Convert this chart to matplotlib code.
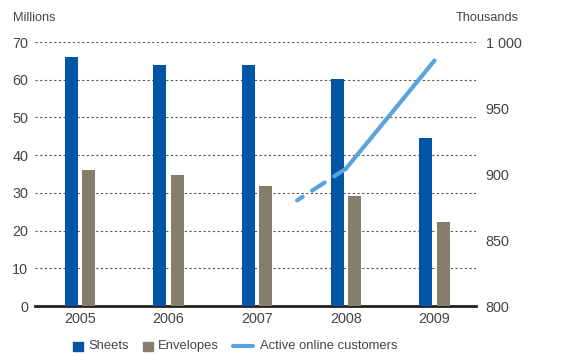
import matplotlib.pyplot as plt
from matplotlib.patches import Rectangle
from matplotlib.lines import Line2D
import numpy as np

plt.rcParams['font.family'] = ['Liberation Sans', 'DejaVu Sans']

years = ['2005', '2006', '2007', '2008', '2009']
sheets = [66.0, 63.9, 63.9, 60.2, 44.5]
envelopes = [36.1, 34.7, 31.8, 29.2, 22.3]
# active online customers (thousands), x positions in year index units
cust_dash_x = [2.45, 3.0]
cust_dash_y = [880, 904]
cust_x = [3.0, 4.0]
cust_y = [904, 986]

blue = '#0055a5'
grey = '#877d6c'
light = '#5ba3dd'
txt = '#444444'

W, H = 566, 354
fig = plt.figure(figsize=(W / 100, H / 100), dpi=100)
ax = fig.add_axes([35 / W, 48 / H, 441 / W, 264 / H])
x = np.arange(len(years))
w = 0.146
ax.bar(x - 0.098, sheets, w, color=blue, zorder=3)
ax.bar(x + 0.098, envelopes, w, color=grey, zorder=3)
ax.set_xlim(-0.505, 4.467)
ax.set_ylim(0, 70)
ax.set_yticks(range(0, 71, 10))
ax.yaxis.grid(True, linestyle=(0, (2, 2.2)), color='#555555', linewidth=0.8)
ax.set_axisbelow(True)
for s in ['top', 'right', 'left']:
    ax.spines[s].set_visible(False)
ax.spines['bottom'].set_linewidth(2)
ax.spines['bottom'].set_color('#222222')
ax.set_xticks(x)
ax.set_xticklabels(years)
ax.tick_params(axis='both', length=0, labelsize=10.4, colors=txt, pad=5)
ax.tick_params(axis='x', pad=4)

ax2 = ax.twinx()
ax2.set_ylim(800, 1000)
ax2.set_yticks([800, 850, 900, 950, 1000])
ax2.set_yticklabels(['800', '850', '900', '950', '1 000'])
ax2.tick_params(axis='y', length=0, labelsize=10.4, colors=txt, pad=7)
for s in ax2.spines.values():
    s.set_visible(False)
ax2.plot(cust_dash_x, cust_dash_y, color=light, lw=3, ls=(2, (3.6, 2.7)),
         solid_capstyle='round', dash_capstyle='round')
ax2.plot(cust_x, cust_y, color=light, lw=3, solid_capstyle='round')

fig.text(13 / W, 1 - 18 / H, 'Millions', fontsize=9.2, color=txt, ha='left', va='center')
fig.text(519 / W, 1 - 18 / H, 'Thousands', fontsize=9.2, color=txt, ha='right', va='center')

# legend, drawn by hand to match the handle sizes
ly = 1 - 346 / H
fig.add_artist(Rectangle((73 / W, 1 - 351 / H), 9.5 / W, 9.5 / H, color=blue,
                         transform=fig.transFigure))
fig.text(88 / W, ly, 'Sheets', fontsize=9.4, color=txt, va='center')
fig.add_artist(Rectangle((143 / W, 1 - 351 / H), 9.5 / W, 9.5 / H, color=grey,
                         transform=fig.transFigure))
fig.text(158 / W, ly, 'Envelopes', fontsize=9.4, color=txt, va='center')
fig.add_artist(Line2D([233 / W, 253 / W], [ly, ly], color=light, lw=3,
                      solid_capstyle='round', transform=fig.transFigure))
fig.text(260 / W, ly, 'Active online customers', fontsize=9.4, color=txt, va='center')

fig.savefig('out.png', dpi=100)
